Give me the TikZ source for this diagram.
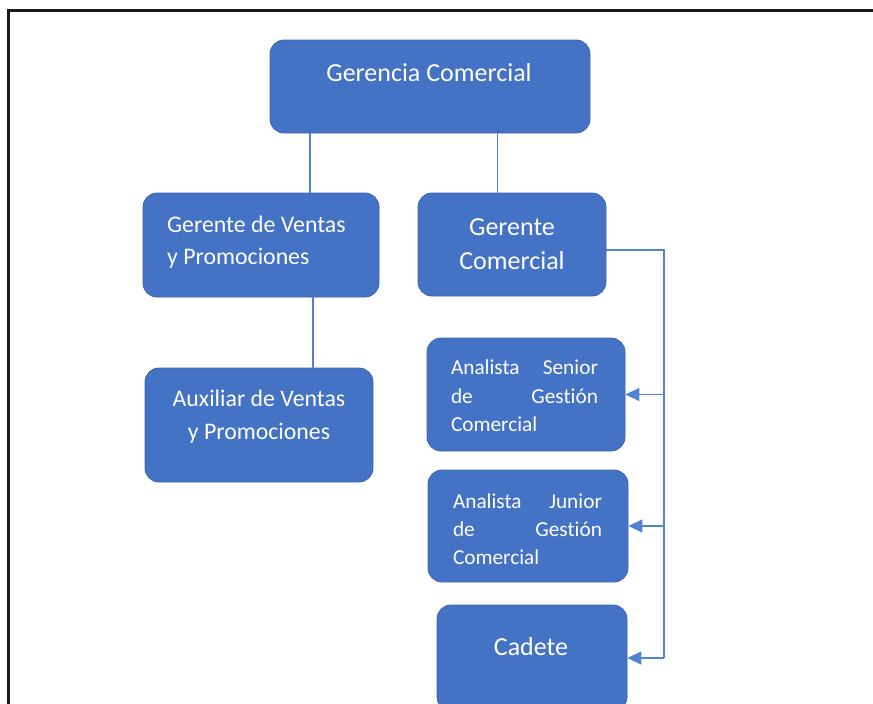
\documentclass[tikz,border=0pt]{standalone}
\usepackage{fontspec}
\setmainfont{Carlito}[Ligatures=NoCommon]
\usetikzlibrary{arrows.meta}
\definecolor{boxblue}{HTML}{4472C4}
\definecolor{boxedge}{HTML}{3A64B0}
\definecolor{linkblue}{HTML}{5283D3}
\tikzset{
  orgbox/.style={draw=boxedge, line width=0.8pt, fill=boxblue, rounded corners=14pt, inner sep=0pt},
  boxtext/.style={text=white, inner sep=0pt},
  link/.style={draw=linkblue, line width=1.4pt},
  arr/.style={link, -{Triangle[length=14pt,width=13pt]}}
}
\begin{document}
\begin{tikzpicture}[x=1pt,y=-1pt]
\useasboundingbox (0,0) rectangle (873,704);
\clip (0,0) rectangle (873,704);
% frame
\draw[line width=2.2pt, black!90] (8.5,720) -- (8.5,10.5) -- (880,10.5);
% boxes
\node[orgbox, minimum width=320pt, minimum height=93pt] (A) at (430,86.5) {};
\node[orgbox, minimum width=236pt, minimum height=104pt] (B) at (261,245) {};
\node[orgbox, minimum width=188pt, minimum height=103pt] (C) at (512,244.5) {};
\node[orgbox, minimum width=228pt, minimum height=114pt] (D) at (259,425) {};
\node[orgbox, minimum width=198pt, minimum height=113pt] (E) at (526,394.5) {};
\node[orgbox, minimum width=200pt, minimum height=112pt] (F) at (528,526) {};
\node[orgbox, minimum width=190pt, minimum height=106pt] (G) at (532,658) {};
% texts
\node[boxtext, font=\fontsize{26}{34}\selectfont] (tA) at (429,73) {Gerencia Comercial};
\node[boxtext, anchor=west, align=left, font=\fontsize{23.8}{32}\selectfont] (tB) at (167,242) {Gerente de Ventas\\y Promociones};
\node[boxtext, align=center, font=\fontsize{26}{34}\selectfont] (tC) at (512,244) {Gerente\\Comercial};
\node[boxtext, align=center, font=\fontsize{23.8}{33}\selectfont] (tD) at (259,417) {Auxiliar de Ventas\\y Promociones};
\node[boxtext, text width=147pt, align=left, font=\fontsize{21.3}{28.5}\selectfont] (tE) at (524.5,396) {Analista\hfill Senior\\de\hfill Gestión\\Comercial};
\node[boxtext, text width=149pt, align=left, font=\fontsize{21.3}{28}\selectfont] (tF) at (527.5,529) {Analista\hfill Junior\\de\hfill Gestión\\Comercial};
\node[boxtext, font=\fontsize{26}{34}\selectfont] (tG) at (531,647) {Cadete};
% connector columns
\coordinate (xa) at (310,0);
\coordinate (xb) at (497.5,0);
\coordinate (xc) at (313,0);
\coordinate (bus) at (664,0);
\coordinate (gy) at (0,658);
% connectors
\draw[link] (A.south -| xa) -- (B.north -| xa);
\draw[link] (A.south -| xb) -- (C.north -| xb);
\draw[link] (B.south -| xc) -- (D.north -| xc);
\draw[link] ([yshift=-5.5pt]C.east) -| (bus |- gy);
\draw[arr] (bus |- E.east) -- (E.east);
\draw[arr] (bus |- F.east) -- (F.east);
\draw[arr] (bus |- gy) -- (G.east |- gy);
\end{tikzpicture}
\end{document}
